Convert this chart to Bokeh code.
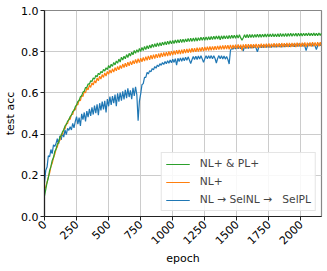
import math
from bokeh.plotting import figure
from bokeh.models import Legend, LegendItem, FixedTicker, PrintfTickFormatter, Range1d
from bokeh.embed import file_html
from bokeh.resources import INLINE

# test accuracy, one value every 10 epochs (0 .. 2160)
acc_nl_pl = [
    0.100, 0.132, 0.165, 0.188, 0.224, 0.243, 0.272, 0.286, 0.315, 0.327,
    0.351, 0.360, 0.384, 0.393, 0.411, 0.420, 0.440, 0.446, 0.463, 0.469,
    0.485, 0.492, 0.510, 0.514, 0.533, 0.541, 0.558, 0.563, 0.581, 0.586,
    0.604, 0.608, 0.626, 0.626, 0.644, 0.642, 0.659, 0.655, 0.672, 0.667,
    0.685, 0.678, 0.695, 0.689, 0.704, 0.697, 0.714, 0.706, 0.722, 0.713,
    0.733, 0.721, 0.739, 0.729, 0.748, 0.736, 0.755, 0.744, 0.764, 0.750,
    0.773, 0.760, 0.778, 0.766, 0.786, 0.772, 0.792, 0.779, 0.797, 0.785,
    0.806, 0.792, 0.810, 0.797, 0.816, 0.801, 0.821, 0.806, 0.825, 0.810,
    0.829, 0.814, 0.832, 0.818, 0.836, 0.821, 0.839, 0.824, 0.842, 0.826,
    0.844, 0.829, 0.846, 0.832, 0.849, 0.834, 0.851, 0.836, 0.853, 0.838,
    0.855, 0.840, 0.857, 0.842, 0.858, 0.843, 0.860, 0.845, 0.861, 0.846,
    0.862, 0.848, 0.864, 0.849, 0.865, 0.850, 0.866, 0.851, 0.868, 0.852,
    0.868, 0.854, 0.870, 0.855, 0.870, 0.856, 0.872, 0.857, 0.873, 0.858,
    0.874, 0.859, 0.875, 0.860, 0.876, 0.861, 0.877, 0.858, 0.877, 0.862,
    0.877, 0.863, 0.878, 0.863, 0.879, 0.864, 0.880, 0.865, 0.880, 0.865,
    0.881, 0.866, 0.882, 0.867, 0.856, 0.868, 0.882, 0.868, 0.883, 0.868,
    0.883, 0.869, 0.884, 0.869, 0.884, 0.870, 0.885, 0.870, 0.885, 0.870,
    0.885, 0.871, 0.886, 0.871, 0.886, 0.872, 0.886, 0.872, 0.887, 0.872,
    0.886, 0.873, 0.887, 0.873, 0.888, 0.874, 0.887, 0.874, 0.888, 0.874,
    0.888, 0.875, 0.889, 0.875, 0.888, 0.876, 0.889, 0.875, 0.890, 0.876,
    0.889, 0.876, 0.890, 0.877, 0.890, 0.877, 0.891, 0.877, 0.890, 0.878,
    0.891, 0.878, 0.890, 0.878, 0.891, 0.879, 0.891,
]

acc_nl = [
    0.130, 0.145, 0.166, 0.192, 0.211, 0.242, 0.258, 0.284, 0.302, 0.326,
    0.338, 0.362, 0.370, 0.396, 0.398, 0.424, 0.426, 0.451, 0.451, 0.474,
    0.471, 0.496, 0.495, 0.519, 0.518, 0.544, 0.542, 0.566, 0.562, 0.588,
    0.582, 0.607, 0.600, 0.624, 0.615, 0.638, 0.627, 0.649, 0.638, 0.660,
    0.648, 0.672, 0.659, 0.681, 0.667, 0.689, 0.675, 0.697, 0.682, 0.704,
    0.690, 0.711, 0.696, 0.717, 0.701, 0.723, 0.707, 0.728, 0.712, 0.733,
    0.718, 0.740, 0.723, 0.744, 0.727, 0.749, 0.732, 0.753, 0.736, 0.757,
    0.741, 0.762, 0.744, 0.766, 0.747, 0.769, 0.751, 0.772, 0.754, 0.776,
    0.758, 0.780, 0.761, 0.783, 0.764, 0.786, 0.767, 0.788, 0.770, 0.791,
    0.772, 0.794, 0.775, 0.796, 0.777, 0.798, 0.779, 0.801, 0.781, 0.803,
    0.784, 0.805, 0.786, 0.807, 0.788, 0.809, 0.789, 0.810, 0.791, 0.812,
    0.793, 0.814, 0.795, 0.815, 0.796, 0.817, 0.798, 0.817, 0.799, 0.819,
    0.801, 0.820, 0.802, 0.822, 0.803, 0.823, 0.805, 0.824, 0.806, 0.825,
    0.807, 0.826, 0.808, 0.827, 0.809, 0.828, 0.810, 0.829, 0.811, 0.830,
    0.812, 0.831, 0.813, 0.832, 0.812, 0.833, 0.814, 0.833, 0.815, 0.834,
    0.815, 0.835, 0.816, 0.834, 0.806, 0.835, 0.817, 0.836, 0.816, 0.836,
    0.818, 0.837, 0.817, 0.836, 0.819, 0.838, 0.818, 0.837, 0.819, 0.839,
    0.820, 0.838, 0.819, 0.839, 0.821, 0.840, 0.820, 0.839, 0.822, 0.841,
    0.821, 0.840, 0.822, 0.841, 0.821, 0.842, 0.823, 0.841, 0.822, 0.842,
    0.823, 0.843, 0.822, 0.842, 0.824, 0.843, 0.823, 0.844, 0.825, 0.843,
    0.824, 0.844, 0.825, 0.845, 0.824, 0.844, 0.826, 0.845, 0.825, 0.846,
    0.826, 0.845, 0.827, 0.846, 0.826, 0.846, 0.828,
]

acc_nl_selnl_selpl = [
    0.165, 0.225, 0.240, 0.295, 0.290, 0.325, 0.305, 0.348, 0.340, 0.355,
    0.378, 0.352, 0.392, 0.372, 0.405, 0.385, 0.420, 0.398, 0.428, 0.418,
    0.436, 0.420, 0.452, 0.430, 0.462, 0.485, 0.448, 0.480, 0.440, 0.498,
    0.470, 0.505, 0.462, 0.512, 0.482, 0.522, 0.488, 0.530, 0.495, 0.538,
    0.502, 0.545, 0.492, 0.550, 0.515, 0.558, 0.520, 0.562, 0.505, 0.570,
    0.535, 0.582, 0.542, 0.585, 0.550, 0.592, 0.535, 0.598, 0.558, 0.602,
    0.562, 0.608, 0.568, 0.615, 0.575, 0.622, 0.580, 0.612, 0.570, 0.625,
    0.585, 0.630, 0.590, 0.465, 0.560, 0.595, 0.640, 0.645, 0.675, 0.675,
    0.700, 0.692, 0.708, 0.702, 0.718, 0.712, 0.728, 0.720, 0.735, 0.728,
    0.742, 0.734, 0.747, 0.738, 0.752, 0.742, 0.756, 0.744, 0.760, 0.746,
    0.763, 0.748, 0.766, 0.735, 0.768, 0.752, 0.770, 0.754, 0.771, 0.756,
    0.773, 0.758, 0.775, 0.760, 0.742, 0.761, 0.777, 0.762, 0.778, 0.762,
    0.779, 0.764, 0.780, 0.765, 0.748, 0.766, 0.781, 0.766, 0.780, 0.767,
    0.781, 0.766, 0.780, 0.767, 0.745, 0.767, 0.781, 0.766, 0.780, 0.765,
    0.779, 0.764, 0.777, 0.762, 0.740, 0.806, 0.818, 0.812, 0.824, 0.813,
    0.825, 0.815, 0.826, 0.814, 0.827, 0.803, 0.827, 0.816, 0.828, 0.816,
    0.829, 0.817, 0.829, 0.818, 0.830, 0.817, 0.800, 0.819, 0.831, 0.819,
    0.831, 0.820, 0.832, 0.820, 0.832, 0.821, 0.833, 0.821, 0.833, 0.822,
    0.834, 0.822, 0.833, 0.823, 0.835, 0.822, 0.835, 0.823, 0.836, 0.824,
    0.835, 0.824, 0.836, 0.825, 0.837, 0.824, 0.837, 0.825, 0.838, 0.826,
    0.837, 0.826, 0.838, 0.827, 0.805, 0.826, 0.839, 0.828, 0.838, 0.827,
    0.839, 0.828, 0.810, 0.829, 0.840, 0.829, 0.841,
]

epochs = [10 * i for i in range(len(acc_nl_pl))]

x_ticks = [0, 250, 500, 750, 1000, 1250, 1500, 1750, 2000]
y_ticks = [0.0, 0.2, 0.4, 0.6, 0.8, 1.0]

labels = ["NL+ & PL+", "NL+", "NL \u2192 SelNL \u2192\u00a0\u00a0 SelPL"]
colors = ["#2ca02c", "#ff7f0e", "#1f77b4"]

FONT = "DejaVu Sans"

p = figure(width=327, height=271, output_backend="svg", toolbar_location=None,
           x_range=Range1d(0, 2160), y_range=Range1d(0, 1.0),
           min_border_left=44, min_border_right=6, min_border_top=10,
           min_border_bottom=55)

r_sel = p.line(epochs, acc_nl_selnl_selpl, line_color=colors[2], line_width=1.2)
r_nl = p.line(epochs, acc_nl, line_color=colors[1], line_width=1.2)
r_nlpl = p.line(epochs, acc_nl_pl, line_color=colors[0], line_width=1.2)

p.xaxis.ticker = FixedTicker(ticks=x_ticks)
p.yaxis.ticker = FixedTicker(ticks=y_ticks)
p.yaxis.formatter = PrintfTickFormatter(format="%.1f")
p.xaxis.major_label_orientation = math.pi / 4

for ax in (p.xaxis[0], p.yaxis[0]):
    ax.axis_line_color = "#222222"
    ax.axis_line_width = 1.2
    ax.major_tick_out = 4
    ax.major_tick_in = 0
    ax.minor_tick_out = 0
    ax.minor_tick_in = 0
    ax.major_tick_line_color = "#222222"
    ax.major_label_text_font = FONT
    ax.major_label_text_font_size = "11px"
    ax.major_label_text_color = "#000000"
    ax.major_label_standoff = 2
    ax.axis_label_text_font = FONT
    ax.axis_label_text_font_size = "11px"
    ax.axis_label_text_font_style = "normal"
    ax.axis_label_text_color = "#000000"
    ax.axis_label_standoff = 1

p.xaxis.axis_label = "epoch"
p.yaxis.axis_label = "test acc"

p.xgrid.grid_line_color = "#cccccc"
p.ygrid.grid_line_color = "#cccccc"
p.xgrid.grid_line_width = 1
p.ygrid.grid_line_width = 1

p.outline_line_color = "#888888"
p.outline_line_width = 1.2
p.background_fill_color = "white"
p.border_fill_color = "white"

legend = Legend(items=[
    LegendItem(label=labels[0], renderers=[r_nlpl]),
    LegendItem(label=labels[1], renderers=[r_nl]),
    LegendItem(label=labels[2], renderers=[r_sel]),
], location="bottom_right")
legend.label_text_font = FONT
legend.label_text_font_size = "10.7px"
legend.glyph_width = 24
legend.glyph_height = 12
legend.label_height = 12
legend.label_standoff = 10
legend.spacing = 5
legend.padding = 4
legend.margin = 5
legend.border_line_color = "#cccccc"
legend.border_line_width = 1
legend.background_fill_alpha = 0.85
p.add_layout(legend)

open("out.html", "w").write(file_html(p, INLINE))
